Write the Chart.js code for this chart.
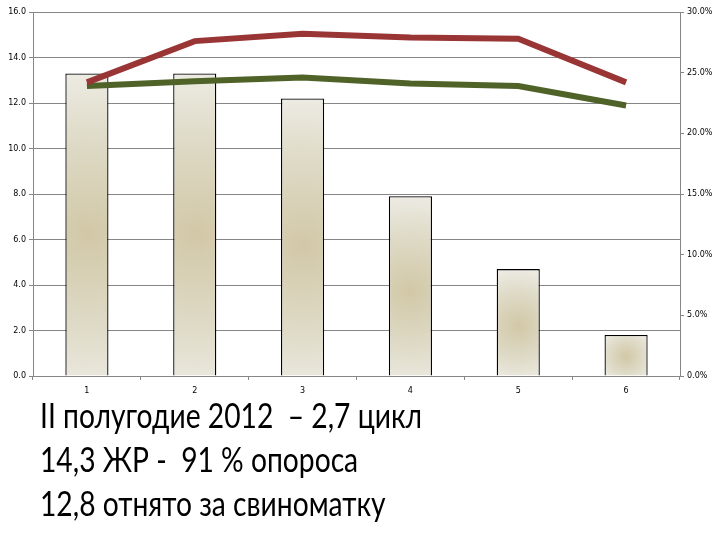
<!DOCTYPE html>
<html>
<head>
<meta charset="utf-8">
<script src="https://cdn.jsdelivr.net/npm/chart.js@4"></script>
<style>
html,body{margin:0;padding:0;background:#fff;}
#wrap{position:absolute;left:0;top:0;width:720px;height:400px;}
#txt{position:absolute;left:40px;top:393px;font-family:Lato,"Open Sans",sans-serif;font-size:34px;color:#000;line-height:44px;white-space:pre;transform:scaleX(0.83);transform-origin:0 0;}
</style>
</head>
<body>
<div id="wrap"><canvas id="c"></canvas></div>
<div id="txt">II полугодие 2012  – 2,7 цикл
14,3 ЖР -  91 % опороса
12,8 отнято за свиноматку</div>
<script>
const categories = ['1','2','3','4','5','6'];
const barValues = [13.3, 13.3, 12.2, 7.9, 4.7, 1.8];
const redValues = [24.2, 27.6, 28.2, 27.9, 27.8, 24.2];
const greenValues = [23.9, 24.3, 24.6, 24.1, 23.9, 22.3];
const leftTicks = [0,2,4,6,8,10,12,14,16];
const rightTicks = [0,5,10,15,20,25,30];

const gradPlugin = {
  id:'barGrad',
  beforeDatasetDraw(chart, args){
    const meta = args.meta;
    if(meta.type !== 'bar') return;
    const c = chart.ctx;
    meta.data.forEach(el=>{
      const top = el.y, bot = el.base;
      const h = bot - top;
      const cx = el.x, cy = top + h*0.53;
      const r = Math.max(h*0.55, el.width*0.7);
      const g = c.createRadialGradient(cx, cy, 0, cx, cy, r);
      g.addColorStop(0, '#d2c8a7');
      g.addColorStop(0.55, '#dedac6');
      g.addColorStop(1, '#eeece5');
      el.options = Object.assign({}, el.options, {backgroundColor: g});
    });
  }
};

const chart = new Chart(document.getElementById('c'), {
  data: {
    labels: categories,
    datasets: [
      {type:'line', data: redValues, yAxisID:'y1', borderColor:'#9a3535', borderWidth:6, pointRadius:0, tension:0, order:0},
      {type:'line', data: greenValues, yAxisID:'y1', borderColor:'#4f6228', borderWidth:6, pointRadius:0, tension:0, order:1},
      {type:'bar', data: barValues, yAxisID:'y', backgroundColor:(ctx)=>'#e3ddc8', borderColor:'#000', borderWidth:1.3, borderSkipped:'bottom', barPercentage:0.4, categoryPercentage:1.0, order:2}
    ]
  },
  plugins:[gradPlugin],
  options: {
    responsive:true, maintainAspectRatio:false, animation:false,
    layout:{padding:{top:12,left:0,right:0,bottom:0}},
    plugins:{legend:{display:false}, tooltip:{enabled:false}},
    scales:{
      x:{
        offset:true,
        grid:{display:true, drawOnChartArea:false, drawTicks:true, tickLength:4, color:'#868686', offset:true},
        border:{color:'#868686'},
        ticks:{font:{family:'DejaVu Sans', size:8}, color:'#000', padding:6},
        afterFit(s){ s.height = 24; }
      },
      y:{
        position:'left', min:0, max:16,
        afterBuildTicks(s){ s.ticks = leftTicks.map(v=>({value:v})); },
        grid:{color:'#868686', tickLength:4},
        border:{color:'#868686'},
        ticks:{font:{family:'DejaVu Sans', size:8}, color:'#000', padding:3, callback:v=>v.toFixed(1)},
        afterFit(s){ s.width = 33; }
      },
      y1:{
        position:'right', min:0, max:30,
        afterBuildTicks(s){ s.ticks = rightTicks.map(v=>({value:v})); },
        grid:{drawOnChartArea:false, color:'#868686', tickLength:4},
        border:{color:'#868686'},
        ticks:{font:{family:'DejaVu Sans', size:8}, color:'#000', padding:3, callback:v=>v.toFixed(1)+'%'},
        afterFit(s){ s.width = 40; }
      }
    }
  }
});
</script>
</body>
</html>
